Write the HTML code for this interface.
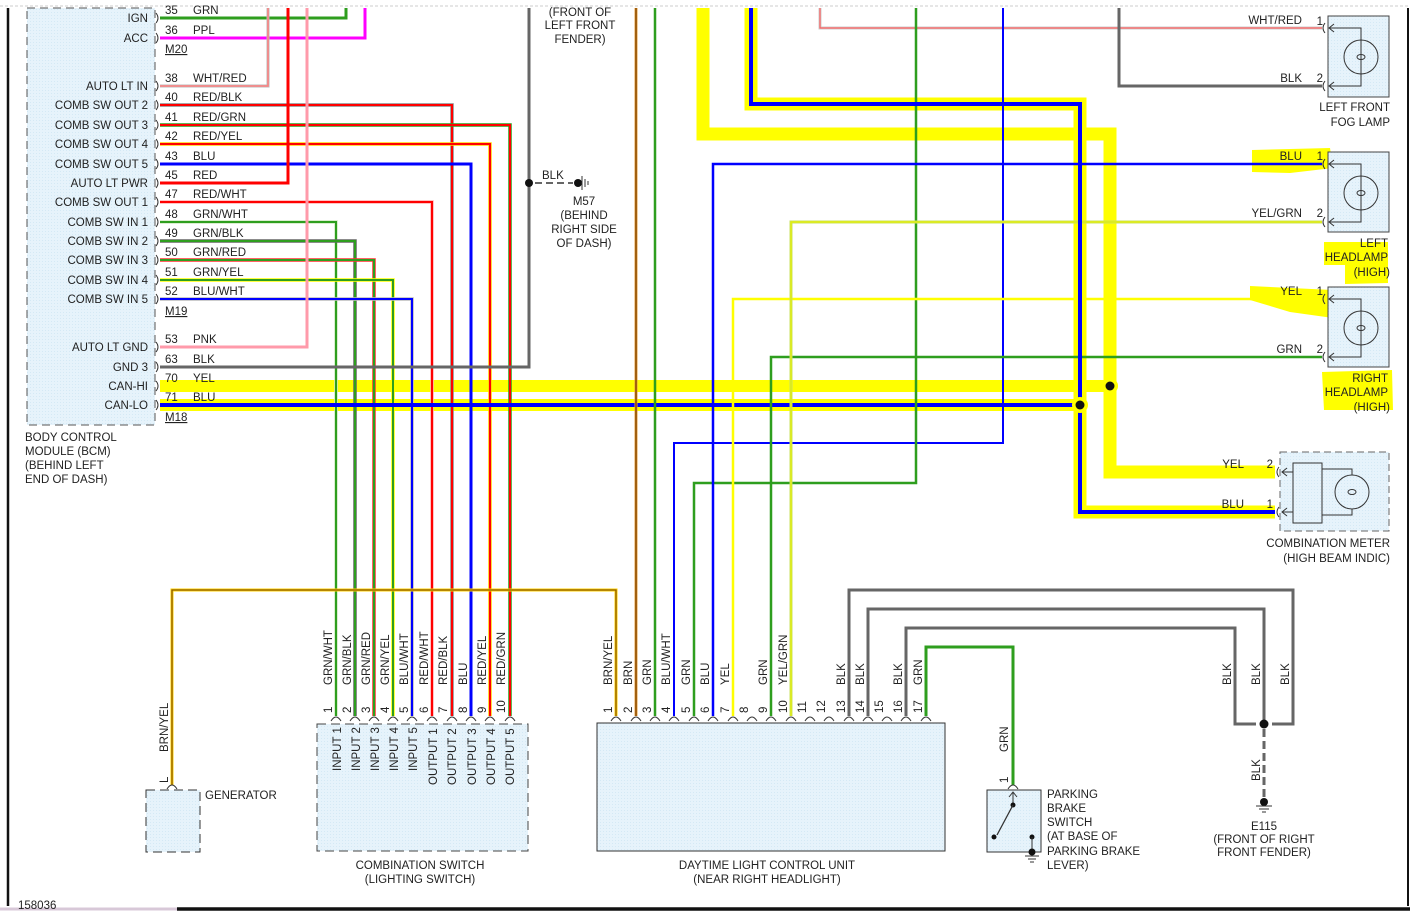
<!DOCTYPE html>
<html><head><meta charset="utf-8"><style>
html,body{margin:0;padding:0;background:#fff;}
svg{display:block;}
text{font-family:"Liberation Sans",Arial,sans-serif;font-size:11.5px;fill:#222;}
</style></head><body>
<svg width="1410" height="911" viewBox="0 0 1410 911" xmlns="http://www.w3.org/2000/svg">
<defs>
<pattern id="dots" width="3" height="3" patternUnits="userSpaceOnUse"><rect width="3" height="3" fill="#e6f3fb"/><rect width="1" height="1" fill="#d4e9f5"/></pattern>
</defs>
<line x1="0" y1="6" x2="1410" y2="6" stroke="#ccc" stroke-dasharray="3,2"/>
<line x1="8" y1="8" x2="8" y2="906" stroke="#111" stroke-width="2.5"/>
<line x1="1408" y1="8" x2="1408" y2="906" stroke="#111" stroke-width="2"/>
<line x1="0" y1="909" x2="177" y2="909" stroke="#d8c8d8" stroke-width="3"/>
<line x1="177" y1="909" x2="1410" y2="909" stroke="#111" stroke-width="3.5"/>
<text x="18" y="909">158036</text>

<rect x="27" y="8" width="128" height="417" fill="url(#dots)" stroke="#555" stroke-dasharray="8,5"/>
<g text-anchor="end">
<text x="148" y="22">IGN</text><text x="148" y="42">ACC</text>
<text x="148" y="90">AUTO LT IN</text><text x="148" y="109">COMB SW OUT 2</text>
<text x="148" y="129">COMB SW OUT 3</text><text x="148" y="148">COMB SW OUT 4</text>
<text x="148" y="168">COMB SW OUT 5</text><text x="148" y="187">AUTO LT PWR</text>
<text x="148" y="206">COMB SW OUT 1</text><text x="148" y="226">COMB SW IN 1</text>
<text x="148" y="245">COMB SW IN 2</text><text x="148" y="264">COMB SW IN 3</text>
<text x="148" y="284">COMB SW IN 4</text><text x="148" y="303">COMB SW IN 5</text>
<text x="148" y="351">AUTO LT GND</text><text x="148" y="371">GND 3</text>
<text x="148" y="390">CAN-HI</text><text x="148" y="409">CAN-LO</text>
</g>
<text x="25" y="441">BODY CONTROL</text><text x="25" y="455">MODULE (BCM)</text>
<text x="25" y="469">(BEHIND LEFT</text><text x="25" y="483">END OF DASH)</text>

<path d="M703,8 V134 H1110 V472 H1275" fill="none" stroke="#ffff00" stroke-width="13"/>
<path d="M751,8 V104 H1080 V512 H1275" fill="none" stroke="#ffff00" stroke-width="13"/>
<rect x="160" y="380" width="950" height="12" fill="#ffff00"/>
<rect x="160" y="399" width="925" height="12" fill="#ffff00"/>
<path d="M1252,150 L1330,148 L1333,168 L1290,173 L1252,172 Z" fill="#ffff00"/>
<path d="M1250,286 L1333,290 L1333,318 L1290,312 L1250,300 Z" fill="#ffff00"/>
<path d="M1324,242 L1388,242 L1388,283 L1345,284 L1345,265 L1324,265 Z" fill="#ffff00"/>
<path d="M1322,372 L1392,370 L1393,410 L1324,410 Z" fill="#ffff00"/>

<g fill="none" stroke-linejoin="miter">
<path d="M160,18 H346 V8" stroke="#2e9e1e" stroke-width="3"/>
<path d="M160,38 H365 V8" stroke="#ff00ff" stroke-width="3"/>
<path d="M160,86 H268 V8" stroke="#bbb" stroke-width="3"/><path d="M160,86 H268 V8" stroke="#ff8080" stroke-width="1.5"/>
<path d="M160,105 H452 V716" stroke="#888" stroke-width="3.5"/><path d="M160,105 H452 V716" stroke="#ff0000" stroke-width="2"/>
<path d="M160,125 H510 V716" stroke="#2e9e1e" stroke-width="3.5"/><path d="M160,125 H510 V716" stroke="#ff0000" stroke-width="2"/>
<path d="M160,144 H490 V716" stroke="#ffd000" stroke-width="3.5"/><path d="M160,144 H490 V716" stroke="#ff0000" stroke-width="2"/>
<path d="M160,164 H471 V716" stroke="#0000ff" stroke-width="3"/>
<path d="M160,183 H288 V8" stroke="#ff0000" stroke-width="3"/>
<path d="M160,202 H432 V716" stroke="#ffb0b0" stroke-width="3.5"/><path d="M160,202 H432 V716" stroke="#ff0000" stroke-width="2"/>
<path d="M160,222 H336 V716" stroke="#cfe8c0" stroke-width="3.5"/><path d="M160,222 H336 V716" stroke="#2e9e1e" stroke-width="2"/>
<path d="M160,241 H355 V716" stroke="#666" stroke-width="3.5"/><path d="M160,241 H355 V716" stroke="#2e9e1e" stroke-width="2"/>
<path d="M160,260 H374 V716" stroke="#ff3030" stroke-width="3.5"/><path d="M160,260 H374 V716" stroke="#2e9e1e" stroke-width="2"/>
<path d="M160,280 H393 V716" stroke="#ffff00" stroke-width="3.5"/><path d="M160,280 H393 V716" stroke="#2e9e1e" stroke-width="2"/>
<path d="M160,299 H412 V716" stroke="#bbb" stroke-width="3.5"/><path d="M160,299 H412 V716" stroke="#0000ff" stroke-width="2"/>
<path d="M160,347 H307 V8" stroke="#ff9aaa" stroke-width="3"/>
<path d="M160,367 H529 V8" stroke="#666" stroke-width="3"/>
<path d="M160,405 H1080" stroke="#0000ff" stroke-width="4"/>
</g>
<g>
<text x="165" y="14">35</text><text x="193" y="14">GRN</text>
<text x="165" y="34">36</text><text x="193" y="34">PPL</text>
<text x="165" y="53" text-decoration="underline">M20</text>
<text x="165" y="82">38</text><text x="193" y="82">WHT/RED</text>
<text x="165" y="101">40</text><text x="193" y="101">RED/BLK</text>
<text x="165" y="121">41</text><text x="193" y="121">RED/GRN</text>
<text x="165" y="140">42</text><text x="193" y="140">RED/YEL</text>
<text x="165" y="160">43</text><text x="193" y="160">BLU</text>
<text x="165" y="179">45</text><text x="193" y="179">RED</text>
<text x="165" y="198">47</text><text x="193" y="198">RED/WHT</text>
<text x="165" y="218">48</text><text x="193" y="218">GRN/WHT</text>
<text x="165" y="237">49</text><text x="193" y="237">GRN/BLK</text>
<text x="165" y="256">50</text><text x="193" y="256">GRN/RED</text>
<text x="165" y="276">51</text><text x="193" y="276">GRN/YEL</text>
<text x="165" y="295">52</text><text x="193" y="295">BLU/WHT</text>
<text x="165" y="315" text-decoration="underline">M19</text>
<text x="165" y="343">53</text><text x="193" y="343">PNK</text>
<text x="165" y="363">63</text><text x="193" y="363">BLK</text>
<text x="165" y="382">70</text><text x="193" y="382">YEL</text>
<text x="165" y="401">71</text><text x="193" y="401">BLU</text>
<text x="165" y="421" text-decoration="underline">M18</text>
</g>
<g fill="none" stroke="#333" stroke-width="1">
<path d="M156,13 q4,5 0,10"/><path d="M156,33 q4,5 0,10"/><path d="M156,81 q4,5 0,10"/><path d="M156,100 q4,5 0,10"/><path d="M156,120 q4,5 0,10"/><path d="M156,139 q4,5 0,10"/><path d="M156,159 q4,5 0,10"/><path d="M156,178 q4,5 0,10"/><path d="M156,197 q4,5 0,10"/><path d="M156,217 q4,5 0,10"/><path d="M156,236 q4,5 0,10"/><path d="M156,255 q4,5 0,10"/><path d="M156,275 q4,5 0,10"/><path d="M156,294 q4,5 0,10"/><path d="M156,342 q4,5 0,10"/><path d="M156,362 q4,5 0,10"/><path d="M156,381 q4,5 0,10"/><path d="M156,400 q4,5 0,10"/>
</g>

<circle cx="529" cy="183" r="4" fill="#111"/>
<line x1="535" y1="183" x2="573" y2="183" stroke="#666" stroke-width="2" stroke-dasharray="7,4"/>
<circle cx="578" cy="183" r="4" fill="#111"/>
<line x1="582" y1="176" x2="582" y2="190" stroke="#333"/><line x1="585" y1="179" x2="585" y2="187" stroke="#333"/><line x1="588" y1="181" x2="588" y2="185" stroke="#333"/>
<text x="542" y="179">BLK</text>
<g text-anchor="middle"><text x="584" y="205">M57</text><text x="584" y="219">(BEHIND</text><text x="584" y="233">RIGHT SIDE</text><text x="584" y="247">OF DASH)</text>
<text x="580" y="16">(FRONT OF</text><text x="580" y="29">LEFT FRONT</text><text x="580" y="43">FENDER)</text></g>

<g fill="none">
<path d="M820,8 V28 H1322" stroke="#ccc" stroke-width="3"/><path d="M820,8 V28 H1322" stroke="#ff6060" stroke-width="1.2"/>
<path d="M1119,8 V86 H1322" stroke="#666" stroke-width="3"/>
<path d="M674,716 V443 H1003 V8" stroke="#0000ff" stroke-width="2"/>
<path d="M694,716 V483 H916 V8" stroke="#2e9e1e" stroke-width="2.5"/>
<path d="M713,716 V164 H1322" stroke="#0000ff" stroke-width="2.5"/>
<path d="M733,716 V299 H1322" stroke="#ffff00" stroke-width="2.5"/>
<path d="M771,716 V357 H1322" stroke="#2e9e1e" stroke-width="2.5"/>
<path d="M791,716 V222 H1322" stroke="#c8e060" stroke-width="3"/><path d="M791,716 V222 H1322" stroke="#e6f000" stroke-width="1.2"/>
<path d="M636,8 V716" stroke="#e8a040" stroke-width="3"/><path d="M636,8 V716" stroke="#8b4a00" stroke-width="1.5"/>
<path d="M655,8 V716" stroke="#2e9e1e" stroke-width="2.5"/>
<path d="M616,716 V590 H172 V785" stroke="#ffd000" stroke-width="3"/><path d="M616,716 V590 H172 V785" stroke="#8b5a00" stroke-width="1.3"/>
<path d="M849,716 V590 H1293 V724 H1272" stroke="#666" stroke-width="3"/>
<path d="M868,716 V609 H1264 V724" stroke="#666" stroke-width="3"/>
<path d="M906,716 V628 H1235 V724 H1256" stroke="#666" stroke-width="3"/>
<path d="M926,716 V647 H1013 V785" stroke="#2e9e1e" stroke-width="3"/>
<path d="M751,8 V104 H1080 V512 H1275" stroke="#0000ff" stroke-width="4"/>
</g>
<circle cx="1110" cy="386" r="8" fill="#ffff00"/><circle cx="1110" cy="386" r="4.5" fill="#111"/>
<circle cx="1080" cy="405" r="8" fill="#ffff00"/><circle cx="1080" cy="405" r="4.5" fill="#111"/>

<g transform="translate(1328,16)">
<rect x="0" y="0" width="61" height="81" fill="url(#dots)" stroke="#444"/>
<path d="M2,12 H33 V70 H2" fill="none" stroke="#333"/>
<circle cx="33" cy="41" r="17" fill="none" stroke="#333"/>
<ellipse cx="33" cy="41" rx="4" ry="2.5" fill="none" stroke="#333"/>
<path d="M-3,7 q-4,5 0,10 M6,8 L1,12 L6,16 M-3,65 q-4,5 0,10 M6,66 L1,70 L6,74" fill="none" stroke="#333"/>
</g>
<g transform="translate(1328,152)">
<rect x="0" y="0" width="61" height="80" fill="url(#dots)" stroke="#444"/>
<path d="M2,12 H33 V70 H2" fill="none" stroke="#333"/>
<circle cx="33" cy="41" r="17" fill="none" stroke="#333"/>
<ellipse cx="33" cy="41" rx="4" ry="2.5" fill="none" stroke="#333"/>
<path d="M-3,7 q-4,5 0,10 M6,8 L1,12 L6,16 M-3,65 q-4,5 0,10 M6,66 L1,70 L6,74" fill="none" stroke="#333"/>
</g>
<g transform="translate(1328,287)">
<rect x="0" y="0" width="61" height="80" fill="url(#dots)" stroke="#444"/>
<path d="M2,12 H33 V70 H2" fill="none" stroke="#333"/>
<circle cx="33" cy="41" r="17" fill="none" stroke="#333"/>
<ellipse cx="33" cy="41" rx="4" ry="2.5" fill="none" stroke="#333"/>
<path d="M-3,7 q-4,5 0,10 M6,8 L1,12 L6,16 M-3,65 q-4,5 0,10 M6,66 L1,70 L6,74" fill="none" stroke="#333"/>
</g>
<rect x="1280" y="452" width="109" height="79" fill="url(#dots)" stroke="#666" stroke-dasharray="7,4"/>
<rect x="1293" y="463" width="29" height="60" fill="url(#dots)" stroke="#333"/>
<path d="M1322,469 H1352 V515 H1322" fill="none" stroke="#333"/>
<circle cx="1352" cy="492" r="17" fill="url(#dots)" stroke="#333"/>
<ellipse cx="1352" cy="492" rx="4" ry="2.5" fill="none" stroke="#333"/>
<path d="M1282,472 H1293 M1287,468 L1282,472 L1287,476 M1282,512 H1293 M1287,508 L1282,512 L1287,516 M1279,467 q-4,5 0,10 M1279,507 q-4,5 0,10" fill="none" stroke="#333"/>

<g text-anchor="end">
<text x="1302" y="24">WHT/RED</text><text x="1323" y="25">1</text>
<text x="1302" y="82">BLK</text><text x="1323" y="82">2</text>
<text x="1390" y="111">LEFT FRONT</text><text x="1390" y="126">FOG LAMP</text>
<text x="1302" y="160">BLU</text><text x="1323" y="160">1</text>
<text x="1302" y="217">YEL/GRN</text><text x="1323" y="217">2</text>
<text x="1388" y="247">LEFT</text><text x="1388" y="261">HEADLAMP</text><text x="1390" y="276">(HIGH)</text>
<text x="1302" y="295">YEL</text><text x="1323" y="295">1</text>
<text x="1302" y="353">GRN</text><text x="1323" y="353">2</text>
<text x="1388" y="382">RIGHT</text><text x="1388" y="396">HEADLAMP</text><text x="1390" y="411">(HIGH)</text>
<text x="1244" y="468">YEL</text><text x="1273" y="468">2</text>
<text x="1244" y="508">BLU</text><text x="1273" y="508">1</text>
<text x="1390" y="547">COMBINATION METER</text><text x="1390" y="562">(HIGH BEAM INDIC)</text>
</g>

<rect x="317" y="724" width="211" height="127" fill="url(#dots)" stroke="#444" stroke-dasharray="9,5"/>
<g fill="none" stroke="#333">
<path d="M331,721 q5,-8 10,0 M350,721 q5,-8 10,0 M369,721 q5,-8 10,0 M388,721 q5,-8 10,0 M407,721 q5,-8 10,0 M427,721 q5,-8 10,0 M447,721 q5,-8 10,0 M466,721 q5,-8 10,0 M485,721 q5,-8 10,0 M505,721 q5,-8 10,0"/>
</g>
<g>
<text transform="translate(332,685) rotate(-90)">GRN/WHT</text>
<text transform="translate(351,685) rotate(-90)">GRN/BLK</text>
<text transform="translate(370,685) rotate(-90)">GRN/RED</text>
<text transform="translate(389,685) rotate(-90)">GRN/YEL</text>
<text transform="translate(408,685) rotate(-90)">BLU/WHT</text>
<text transform="translate(428,685) rotate(-90)">RED/WHT</text>
<text transform="translate(447,685) rotate(-90)">RED/BLK</text>
<text transform="translate(467,685) rotate(-90)">BLU</text>
<text transform="translate(486,685) rotate(-90)">RED/YEL</text>
<text transform="translate(505,685) rotate(-90)">RED/GRN</text>
<text transform="translate(332,713) rotate(-90)">1</text><text transform="translate(351,713) rotate(-90)">2</text>
<text transform="translate(370,713) rotate(-90)">3</text><text transform="translate(389,713) rotate(-90)">4</text>
<text transform="translate(408,713) rotate(-90)">5</text><text transform="translate(428,713) rotate(-90)">6</text>
<text transform="translate(447,713) rotate(-90)">7</text><text transform="translate(467,713) rotate(-90)">8</text>
<text transform="translate(486,713) rotate(-90)">9</text><text transform="translate(505,713) rotate(-90)">10</text>
<text transform="translate(341,771) rotate(-90)">INPUT 1</text>
<text transform="translate(360,771) rotate(-90)">INPUT 2</text>
<text transform="translate(379,771) rotate(-90)">INPUT 3</text>
<text transform="translate(398,771) rotate(-90)">INPUT 4</text>
<text transform="translate(417,771) rotate(-90)">INPUT 5</text>
<text transform="translate(437,785) rotate(-90)">OUTPUT 1</text>
<text transform="translate(456,785) rotate(-90)">OUTPUT 2</text>
<text transform="translate(476,785) rotate(-90)">OUTPUT 3</text>
<text transform="translate(495,785) rotate(-90)">OUTPUT 4</text>
<text transform="translate(514,785) rotate(-90)">OUTPUT 5</text>
</g>
<g text-anchor="middle"><text x="420" y="869">COMBINATION SWITCH</text><text x="420" y="883">(LIGHTING SWITCH)</text>
<text x="767" y="869">DAYTIME LIGHT CONTROL UNIT</text><text x="767" y="883">(NEAR RIGHT HEADLIGHT)</text>
<text x="1264" y="830">E115</text><text x="1264" y="843">(FRONT OF RIGHT</text><text x="1264" y="856">FRONT FENDER)</text></g>

<rect x="597" y="723" width="348" height="128" fill="url(#dots)" stroke="#333"/>
<g fill="none" stroke="#333">
<path d="M611,721 q5,-8 10,0 M631,721 q5,-8 10,0 M650,721 q5,-8 10,0 M669,721 q5,-8 10,0 M689,721 q5,-8 10,0 M708,721 q5,-8 10,0 M728,721 q5,-8 10,0 M747,721 q5,-8 10,0 M766,721 q5,-8 10,0 M786,721 q5,-8 10,0 M805,721 q5,-8 10,0 M824,721 q5,-8 10,0 M844,721 q5,-8 10,0 M863,721 q5,-8 10,0 M882,721 q5,-8 10,0 M901,721 q5,-8 10,0 M921,721 q5,-8 10,0"/>
</g>
<g>
<text transform="translate(612,685) rotate(-90)">BRN/YEL</text>
<text transform="translate(632,685) rotate(-90)">BRN</text>
<text transform="translate(651,685) rotate(-90)">GRN</text>
<text transform="translate(670,685) rotate(-90)">BLU/WHT</text>
<text transform="translate(690,685) rotate(-90)">GRN</text>
<text transform="translate(709,685) rotate(-90)">BLU</text>
<text transform="translate(729,685) rotate(-90)">YEL</text>
<text transform="translate(767,685) rotate(-90)">GRN</text>
<text transform="translate(787,685) rotate(-90)">YEL/GRN</text>
<text transform="translate(845,685) rotate(-90)">BLK</text>
<text transform="translate(864,685) rotate(-90)">BLK</text>
<text transform="translate(902,685) rotate(-90)">BLK</text>
<text transform="translate(922,685) rotate(-90)">GRN</text>
<text transform="translate(612,713) rotate(-90)">1</text><text transform="translate(632,713) rotate(-90)">2</text>
<text transform="translate(651,713) rotate(-90)">3</text><text transform="translate(670,713) rotate(-90)">4</text>
<text transform="translate(690,713) rotate(-90)">5</text><text transform="translate(709,713) rotate(-90)">6</text>
<text transform="translate(729,713) rotate(-90)">7</text><text transform="translate(748,713) rotate(-90)">8</text>
<text transform="translate(767,713) rotate(-90)">9</text><text transform="translate(787,713) rotate(-90)">10</text>
<text transform="translate(806,713) rotate(-90)">11</text><text transform="translate(825,713) rotate(-90)">12</text>
<text transform="translate(845,713) rotate(-90)">13</text><text transform="translate(864,713) rotate(-90)">14</text>
<text transform="translate(883,713) rotate(-90)">15</text><text transform="translate(902,713) rotate(-90)">16</text>
<text transform="translate(922,713) rotate(-90)">17</text>
<text transform="translate(1231,685) rotate(-90)">BLK</text>
<text transform="translate(1260,685) rotate(-90)">BLK</text>
<text transform="translate(1289,685) rotate(-90)">BLK</text>
<text transform="translate(1260,781) rotate(-90)">BLK</text>
<text transform="translate(1008,752) rotate(-90)">GRN</text>
<text transform="translate(1008,783) rotate(-90)">1</text>
<text transform="translate(168,752) rotate(-90)">BRN/YEL</text>
<text transform="translate(168,783) rotate(-90)">L</text>
</g>

<circle cx="1264" cy="724" r="4.5" fill="#111"/>
<line x1="1264" y1="729" x2="1264" y2="797" stroke="#666" stroke-width="3" stroke-dasharray="8,4"/>
<circle cx="1264" cy="802" r="4" fill="#111"/>
<line x1="1256" y1="806" x2="1272" y2="806" stroke="#333"/><line x1="1259" y1="809" x2="1269" y2="809" stroke="#333"/><line x1="1262" y1="812" x2="1266" y2="812" stroke="#333"/>

<rect x="146" y="790" width="54" height="62" fill="url(#dots)" stroke="#333" stroke-dasharray="9,5"/>
<path d="M167,789 q5,-8 10,0" fill="none" stroke="#333"/>
<text x="205" y="799">GENERATOR</text>

<rect x="987" y="790" width="54" height="62" fill="url(#dots)" stroke="#333"/>
<path d="M1008,789 q5,-8 10,0 M1013,792 V805 M1009,797 L1013,792 L1017,797" fill="none" stroke="#333"/>
<circle cx="1013" cy="805" r="2.5" fill="#111"/>
<line x1="1013" y1="805" x2="997" y2="835" stroke="#333" stroke-width="1.3"/>
<circle cx="994" cy="837" r="2.5" fill="#111"/>
<circle cx="1032" cy="837" r="2.5" fill="#111"/>
<line x1="1032" y1="837" x2="1032" y2="852" stroke="#333"/>
<circle cx="1032" cy="852" r="3.5" fill="#111"/>
<line x1="1025" y1="856" x2="1039" y2="856" stroke="#333"/><line x1="1028" y1="859" x2="1036" y2="859" stroke="#333"/><line x1="1030" y1="862" x2="1034" y2="862" stroke="#333"/>
<text x="1047" y="798">PARKING</text><text x="1047" y="812">BRAKE</text><text x="1047" y="826">SWITCH</text>
<text x="1047" y="840">(AT BASE OF</text><text x="1047" y="855">PARKING BRAKE</text><text x="1047" y="869">LEVER)</text>
</svg>
</body></html>
